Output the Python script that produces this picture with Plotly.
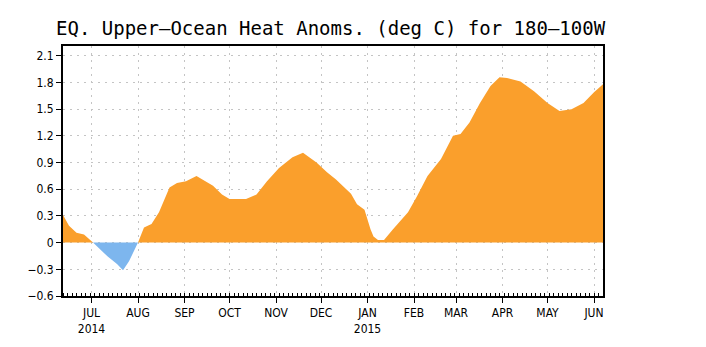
import plotly.graph_objects as go

# ---- data ----
dates = [
    "2014-06-12", "2014-06-16", "2014-06-21", "2014-06-26", "2014-07-02",
    "2014-07-12", "2014-07-18", "2014-07-22", "2014-07-26", "2014-08-01",
    "2014-08-05", "2014-08-10", "2014-08-15", "2014-08-22", "2014-08-27",
    "2014-09-02", "2014-09-09", "2014-09-17", "2014-09-20", "2014-09-26",
    "2014-10-01", "2014-10-12", "2014-10-19", "2014-10-26", "2014-11-03",
    "2014-11-12", "2014-11-19", "2014-11-28", "2014-12-05", "2014-12-11",
    "2014-12-17", "2014-12-21", "2014-12-25", "2014-12-30", "2015-01-03",
    "2015-01-05", "2015-01-08", "2015-01-12", "2015-01-18", "2015-01-28",
    "2015-02-03", "2015-02-10", "2015-02-19", "2015-02-27", "2015-03-04",
    "2015-03-10", "2015-03-17", "2015-03-24", "2015-03-30", "2015-04-04",
    "2015-04-13", "2015-04-22", "2015-05-01", "2015-05-09", "2015-05-17",
    "2015-05-25", "2015-06-01", "2015-06-07",
]
values = [
    0.31, 0.19, 0.11, 0.09, 0.00,
    -0.16, -0.24, -0.31, -0.21, 0.00,
    0.17, 0.21, 0.34, 0.62, 0.67,
    0.69, 0.75, 0.67, 0.64, 0.54,
    0.49, 0.49, 0.54, 0.69, 0.84,
    0.96, 1.01, 0.90, 0.79, 0.71,
    0.62, 0.55, 0.43, 0.37, 0.15,
    0.07, 0.03, 0.03, 0.15, 0.34,
    0.52, 0.75, 0.94, 1.20, 1.22,
    1.35, 1.57, 1.76, 1.86, 1.85,
    1.81, 1.70, 1.57, 1.48, 1.50,
    1.57, 1.69, 1.78,
]

month_ticks = ["2014-07-01", "2014-08-01", "2014-09-01", "2014-10-01",
               "2014-11-01", "2014-12-01", "2015-01-01", "2015-02-01",
               "2015-03-01", "2015-04-01", "2015-05-01", "2015-06-01"]
month_labels = ["JUL<br>2014", "AUG", "SEP", "OCT", "NOV", "DEC",
                "JAN<br>2015", "FEB", "MAR", "APR", "MAY", "JUN"]

y_ticks = [-0.6, -0.3, 0, 0.3, 0.6, 0.9, 1.2, 1.5, 1.8, 2.1]
y_labels = ["\u22120.6", "\u22120.3", "0", "0.3", "0.6", "0.9", "1.2", "1.5", "1.8", "2.1"]

title_text = "EQ. Upper\u2013Ocean Heat Anoms. (deg C) for 180\u2013100W"

ORANGE = "#FA9F2C"
BLUE = "#7DB6EE"

pos = [max(v, 0) for v in values]
neg = [min(v, 0) for v in values]

fig = go.Figure()
fig.add_trace(go.Scatter(x=dates, y=pos, mode="lines", fill="tozeroy",
                         line=dict(width=0, color=ORANGE), fillcolor=ORANGE,
                         hoverinfo="skip", showlegend=False))
fig.add_trace(go.Scatter(x=dates, y=neg, mode="lines", fill="tozeroy",
                         line=dict(width=0, color=BLUE), fillcolor=BLUE,
                         hoverinfo="skip", showlegend=False))

tick_font = dict(family="Liberation Sans Narrow, DejaVu Sans Condensed, Arial Narrow, sans-serif",
                 size=12, color="black")

GRID = "#c4c4c4"
GRID_DASH = "2px,5px"

fig.update_layout(
    width=706, height=347,
    margin=dict(l=63, r=103, t=46, b=51),
    paper_bgcolor="white", plot_bgcolor="white",
    title=dict(text=title_text, x=56 / 706, xanchor="left",
               y=1 - 28 / 347, yanchor="middle",
               font=dict(family="DejaVu Sans Mono, monospace", size=19, color="black")),
    xaxis=dict(
        type="date",
        range=["2014-06-12", "2015-06-07"],
        tickvals=month_ticks, ticktext=month_labels,
        tickfont=tick_font, ticks="outside", ticklen=5, tickcolor="black",
        showgrid=True, gridcolor=GRID, griddash=GRID_DASH, gridwidth=1,
        showline=True, linecolor="black", linewidth=2, mirror=True,
        minor=dict(ticks="inside", ticklen=3, dtick=3 * 86400000,
                   tick0="2014-06-12", tickcolor="black", showgrid=False),
        zeroline=False,
    ),
    yaxis=dict(
        range=[-0.6, 2.21],
        tickvals=y_ticks, ticktext=y_labels,
        tickfont=tick_font, ticks="outside", ticklen=5, tickcolor="black",
        showgrid=True, gridcolor=GRID, griddash=GRID_DASH, gridwidth=1,
        showline=True, linecolor="black", linewidth=2, mirror=True,
        zeroline=False,
    ),
)

fig.write_html("out.html")
